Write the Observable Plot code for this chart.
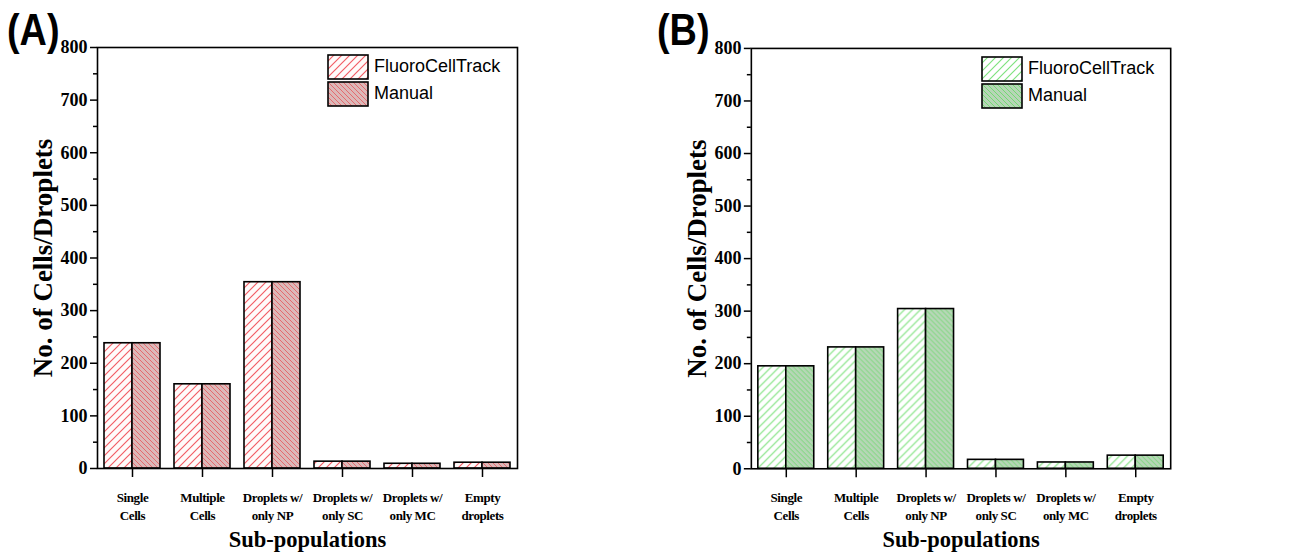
<!DOCTYPE html>
<html>
<head>
<meta charset="utf-8">
<script src="https://cdn.jsdelivr.net/npm/d3@7"></script>
<script src="https://cdn.jsdelivr.net/npm/@observablehq/plot@0.6"></script>
<style>
  html, body { margin: 0; padding: 0; background: #fff; }
  #wrap { position: relative; width: 1299px; height: 556px; overflow: hidden; background: #fff; }
  .panel { position: absolute; top: 0; }
  .plabel { position: absolute; font-family: "Liberation Sans", Arial, sans-serif; font-weight: bold; font-size: 44px; line-height: 1; transform: scaleX(0.86); transform-origin: left top; }
  .legend { position: absolute; font-family: "Liberation Sans", Arial, sans-serif; font-size: 18px; }
  .legend .row { display: flex; align-items: center; height: 27px; }
  .legend svg { display: block; margin-right: 5px; }
  .cond text { letter-spacing: -0.4px; }
</style>
</head>
<body>
<div id="wrap"></div>
<script>
// ---- data ----
const categories = ["Single\nCells", "Multiple\nCells", "Droplets w/\nonly NP", "Droplets w/\nonly SC", "Droplets w/\nonly MC", "Empty\ndroplets"];
const series = ["FluoroCellTrack", "Manual"];
const fluoroA = [238, 160, 354, 13, 9, 11];
const manualA = [238, 160, 354, 13, 9, 11];
const fluoroB = [195, 231, 304, 17, 12, 25];
const manualB = [195, 231, 304, 17, 12, 25];
const yTicks = [0, 100, 200, 300, 400, 500, 600, 700, 800];
const yMinorTicks = [50, 150, 250, 350, 450, 550, 650, 750];
const yLabel = "No. of Cells/Droplets";
const xLabel = "Sub-populations";

// hatch pattern styles (line colour, background)
function patternDefs(prefix, lineLight, lineManual, bgLight, bgManual) {
  return `
    <pattern id="${prefix}F" patternUnits="userSpaceOnUse" width="8" height="8">
      <rect width="8" height="8" fill="${bgLight}"></rect>
      <path d="M-2,2 L2,-2 M0,8 L8,0 M6,10 L10,6" style="stroke:${lineLight};stroke-width:1.15;fill:none"></path>
    </pattern>
    <pattern id="${prefix}M" patternUnits="userSpaceOnUse" width="5" height="5">
      <rect width="5" height="5" fill="${bgManual}"></rect>
      <path d="M0,0 L5,5 M-1,4 L1,6 M4,-1 L6,1" style="stroke:${lineManual};stroke-width:1;fill:none"></path>
    </pattern>`;
}

function makePanel(fluoro, manual, prefix, colors, m) {
  const fills = [`url(#${prefix}F)`, `url(#${prefix}M)`];
  const rows = categories.flatMap((c, i) => [
    {cat: c, series: series[0], value: fluoro[i]},
    {cat: c, series: series[1], value: manual[i]}
  ]);
  const svg = Plot.plot({
    width: 650,
    height: 556,
    marginLeft: m.left,
    marginRight: m.right,
    marginTop: m.top,
    marginBottom: m.bottom,
    style: {fontFamily: "'Liberation Serif', 'Times New Roman', serif", background: "transparent", color: "#000", overflow: "visible"},
    fx: {domain: categories, padding: 0, label: null},
    x: {domain: series, paddingInner: 0, paddingOuter: 0.25, axis: null},
    y: {domain: [0, 800], axis: null},
    marks: [
      Plot.barY(rows.filter(d => d.series === series[0]), {fx: "cat", x: "series", y: "value", fill: fills[0], stroke: "#000", strokeWidth: 1.6}),
      Plot.barY(rows.filter(d => d.series === series[1]), {fx: "cat", x: "series", y: "value", fill: fills[1], stroke: "#000", strokeWidth: 1.6}),
      Plot.frame({facet: "super", stroke: "#000", strokeWidth: 1.6}),
      Plot.axisY({ticks: yTicks, tickSize: 7, tickPadding: 3, tickFormat: d => String(d), fontSize: 18, fontWeight: "bold", label: null, strokeWidth: 1.5}),
      Plot.axisY({ticks: yMinorTicks, tickSize: 4, tickFormat: () => "", label: null, strokeWidth: 1.5}),
      Plot.axisFx({anchor: "bottom", tickSize: 9, tickPadding: 11, fontSize: 13, fontWeight: "bold", lineHeight: 1.42, label: null, strokeWidth: 1.5, className: "cond"}),
      Plot.text([yLabel], {facet: "super", frameAnchor: "left", textAnchor: "middle", rotate: -90, dx: -54, fontSize: 27, fontWeight: "bold"}),
      Plot.text([xLabel], {facet: "super", frameAnchor: "bottom", dy: 78, fontSize: 22.5, fontWeight: "bold"})
    ]
  });
  d3.select(svg).insert("defs", ":first-child").html(patternDefs(prefix, colors[0], colors[1], colors[2], colors[3]));
  return {svg, fills};
}

const wrap = document.getElementById("wrap");

function addPanel(left, panel, label, labelPos, legendPos) {
  const div = document.createElement("div");
  div.className = "panel";
  div.style.left = left + "px";
  div.appendChild(panel.svg);
  wrap.appendChild(div);

  const pl = document.createElement("div");
  pl.className = "plabel";
  pl.textContent = label;
  pl.style.left = labelPos[0] + "px";
  pl.style.top = labelPos[1] + "px";
  wrap.appendChild(pl);

  const lg = document.createElement("div");
  lg.className = "legend";
  lg.style.left = legendPos[0] + "px";
  lg.style.top = legendPos[1] + "px";
  series.forEach((s, i) => {
    const row = document.createElement("div");
    row.className = "row";
    row.innerHTML = `<svg width="42" height="26"><rect x="1" y="1" width="40" height="24" fill="${panel.fills[i]}" stroke="#000" stroke-width="1.6"></rect></svg><span>${s}</span>`;
    lg.appendChild(row);
  });
  wrap.appendChild(lg);
}

const colorsA = ["#f25c64", "#e46a6e", "#fffafa", "#dcb8b8"];
const colorsB = ["#7ee27e", "#74d874", "#ffffff", "#b6d6b6"];

addPanel(0, makePanel(fluoroA, manualA, "pa", colorsA, {left: 97, right: 133, top: 47, bottom: 88}), "(A)", [7, 8], [327, 53]);
addPanel(650, makePanel(fluoroB, manualB, "pb", colorsB, {left: 100, right: 128, top: 48, bottom: 87}), "(B)", [657, 8], [981, 55]);
</script>
</body>
</html>
